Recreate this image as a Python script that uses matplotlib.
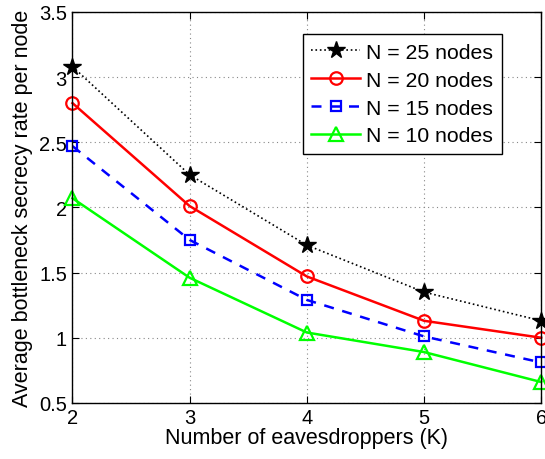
import matplotlib
matplotlib.use('Agg')
import matplotlib.pyplot as plt

plt.rcParams['font.family'] = ['Liberation Sans', 'DejaVu Sans']

k = [2, 3, 4, 5, 6]
n25 = [3.08, 2.25, 1.71, 1.35, 1.13]
n20 = [2.80, 2.01, 1.47, 1.13, 1.00]
n15 = [2.47, 1.75, 1.29, 1.01, 0.81]
n10 = [2.07, 1.46, 1.04, 0.89, 0.66]
labels = ['N = 25 nodes', 'N = 20 nodes', 'N = 15 nodes', 'N = 10 nodes']

fig = plt.figure(figsize=(5.45, 4.6), dpi=100)
ax = fig.add_axes([0.133, 0.122, 0.86, 0.85])

ax.plot(k, n25, color='k', linestyle=':', linewidth=1.2, marker='*', markersize=13,
        markerfacecolor='k', label=labels[0], clip_on=False)
ax.plot(k, n20, color='r', linestyle='-', linewidth=1.8, marker='o', markersize=9,
        markerfacecolor='none', markeredgewidth=1.6, label=labels[1], clip_on=False)
ax.plot(k, n15, color='b', linestyle='--', linewidth=1.8, dashes=(4, 3.5), marker='s', markersize=7,
        markerfacecolor='none', markeredgewidth=1.6, label=labels[2], clip_on=False)
ax.plot(k, n10, color='#00ff00', linestyle='-', linewidth=1.8, marker='^', markersize=10,
        markerfacecolor='none', markeredgewidth=1.6, label=labels[3], clip_on=False)

ax.set_xlim(2, 6)
ax.set_ylim(0.5, 3.5)
ax.set_xticks(k)
ax.set_yticks([0.5, 1, 1.5, 2, 2.5, 3, 3.5])
ax.set_yticklabels(['0.5', '1', '1.5', '2', '2.5', '3', '3.5'])
ax.grid(True, linestyle=(0, (1, 3)), color='#888888', linewidth=0.8)
ax.tick_params(direction='in', top=True, right=True, labelsize=14.5, length=5, pad=4)
for s in ax.spines.values():
    s.set_linewidth(1.0)

ax.set_xlabel('Number of eavesdroppers (K)', fontsize=15.5, labelpad=0)
ax.set_ylabel('Average bottleneck secrecy rate per node', fontsize=15.5, labelpad=4)

leg = ax.legend(loc='upper right', bbox_to_anchor=(0.916, 0.943), borderaxespad=0,
                fontsize=15.3, fancybox=False, framealpha=1, edgecolor='k',
                handlelength=2.3, handletextpad=0.3, labelspacing=0.42, borderpad=0.4)
leg.get_frame().set_linewidth(1.0)

fig.savefig('out.png', dpi=100)
